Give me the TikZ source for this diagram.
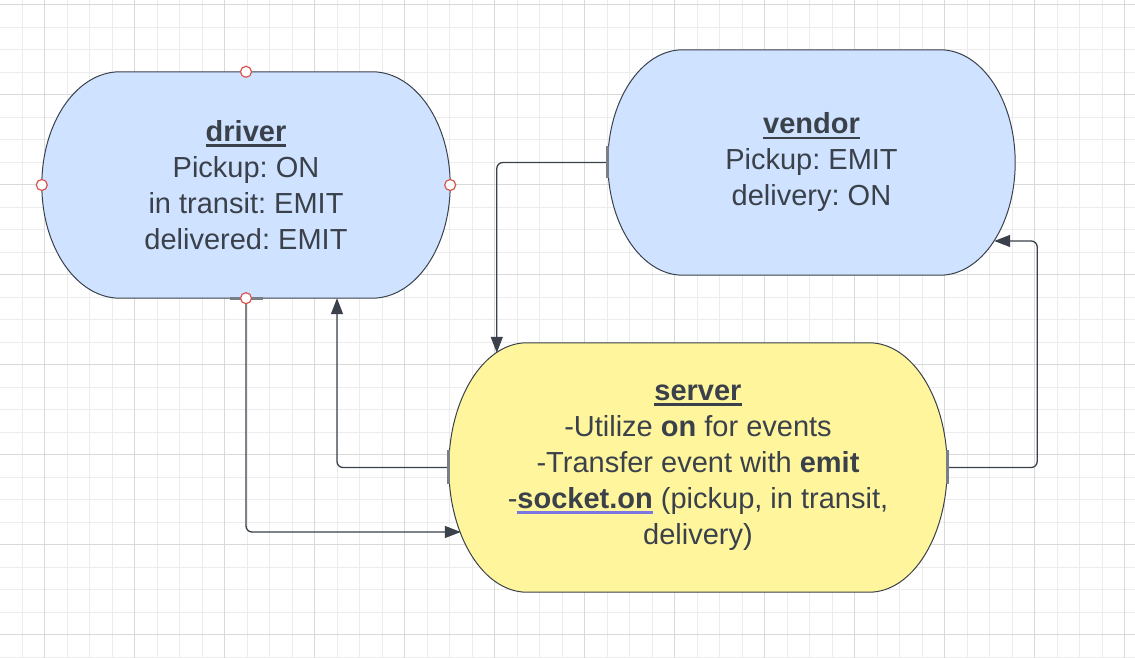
\documentclass[tikz,border=0pt]{standalone}
\usepackage{fontspec}
\setmainfont{Liberation Sans}
\frenchspacing
\usetikzlibrary{arrows.meta,calc,backgrounds}
\definecolor{inkgray}{HTML}{3A414A}
\definecolor{trmblue}{HTML}{CFE2FF}
\definecolor{trmyellow}{HTML}{FFF59D}
\definecolor{gridminor}{HTML}{ECECEC}
\definecolor{gridmajor}{HTML}{D9D9D9}
\definecolor{hdlred}{HTML}{D9534F}
\definecolor{linkblue}{HTML}{7B76E2}
\definecolor{tickgray}{HTML}{7A7F85}
\newsavebox{\ulbox}
\newcommand{\thickul}[2][inkgray]{\sbox{\ulbox}{#2}\rlap{\textcolor{#1}{\rule[-5.5pt]{\wd\ulbox}{2.6pt}}}\usebox{\ulbox}}
\tikzset{
  trmtxt/.style={inner sep=0pt,align=center,text=inkgray,font=\fontsize{29}{36}\selectfont},
  trmline/.style={draw=inkgray,line width=1pt},
  arr/.style={-{Triangle[length=16pt,width=12pt]},line width=1.3pt,draw=inkgray,rounded corners=6pt},
  tick/.style={draw=tickgray,line width=3pt},
  hdl/.style={circle,draw=hdlred,fill=white,line width=1.2pt,inner sep=0pt,minimum size=11pt},
  gmin/.style={draw=gridminor,line width=1pt},
  gmaj/.style={draw=gridmajor,line width=1pt}
}

\begin{document}
\begin{tikzpicture}[x=1pt,y=1pt]
  \useasboundingbox (0,0) rectangle (1135,658);

  \node[trmtxt, minimum width=408pt, minimum height=226pt] (drv) at (246,473)
    {\thickul{\textbf{driver}}\\Pickup: ON\\in transit: EMIT\\delivered: EMIT};
  \node[trmtxt, minimum width=407pt, minimum height=225pt] (vnd) at (811.5,495.5)
    {\thickul{\textbf{vendor}}\\Pickup: EMIT\\delivery: ON};
  \node[trmtxt, minimum width=498pt, minimum height=249pt] (srv) at (698,190.5)
    {\thickul{\textbf{server}}\\-Utilize \textbf{on} for events\\-Transfer event with \textbf{emit}\\-\thickul[linkblue]{\textbf{socket.on}} (pickup, in transit,\\delivery)};

  \begin{scope}[on background layer]
    \fill[white] (0,0) rectangle (1135,658);
    \foreach \i in {1,...,50} \draw[gmin] ({-0.5+22.5*\i},0) -- ++(0,658);
    \foreach \i in {0,...,29} \draw[gmin] (0,{653-22.5*\i}) -- ++(1135,0);
    \foreach \i in {0,...,12} \draw[gmaj] ({44+90*\i},0) -- ++(0,658);
    \foreach \i in {0,...,7} \draw[gmaj] (0,{653-90*\i}) -- ++(1135,0);
    \foreach \s/\c/\r in {drv/trmblue/78, vnd/trmblue/75, srv/trmyellow/78}
      \draw[trmline, fill=\c] let \p1=($(\s.north)-(\s.south)$) in
        ($(\s.north west)+(\r,0)$) -- ($(\s.north east)+(-\r,0)$)
        arc[start angle=90, end angle=-90, x radius=\r pt, y radius=0.5*\y1]
        -- ($(\s.south west)+(\r,0)$)
        arc[start angle=270, end angle=90, x radius=\r pt, y radius=0.5*\y1] -- cycle;
  \end{scope}

  \coordinate (srvin) at ($(srv.west)+(12,-64.5)$);
  \coordinate (srvtop) at ($(srv.north west)+(48,-10)$);
  \coordinate (vndin) at ($(vnd.east)+(-21,-78.5)$);
  \coordinate (drvin) at ($(drv.south)+(91,0)$);

  \draw[arr] (drv.south) |- (srvin);
  \draw[arr] (srv.west) -| (drvin);
  \draw[arr] (vnd.west) -| (srvtop);
  \draw[arr] (srv.east) -- ++(90,0) |- (vndin);

  \draw[tick] ($(srv.west)+(0,-17)$) -- ($(srv.west)+(0,17)$);
  \draw[tick] ($(srv.east)+(0,-17)$) -- ($(srv.east)+(0,17)$);
  \draw[tick] ($(vnd.west)+(0,-16)$) -- ($(vnd.west)+(0,16)$);
  \draw[tick] ($(drv.south)+(-16,0)$) -- ($(drv.south)+(17,0)$);

  \foreach \a in {north,west,east,south}
    \node[hdl] (hdl-\a) at (drv.\a) {};
\end{tikzpicture}
\end{document}
